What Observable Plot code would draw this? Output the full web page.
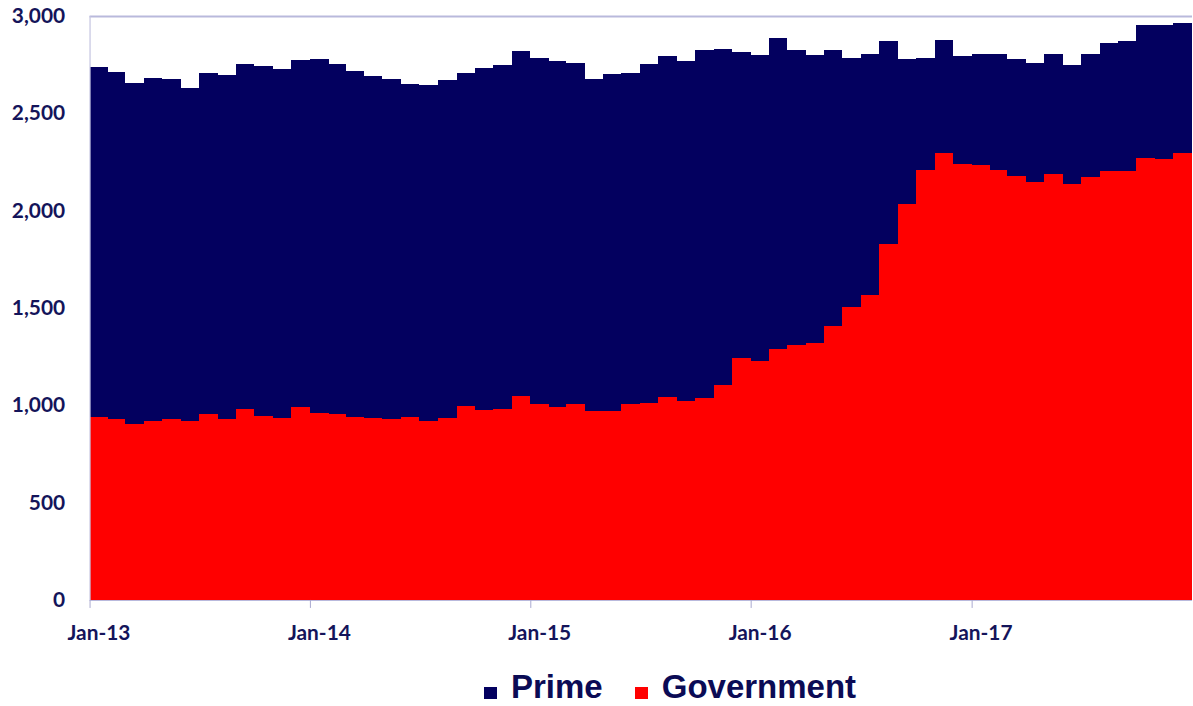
<!DOCTYPE html>
<html><head><meta charset="utf-8">
<script src="https://cdn.jsdelivr.net/npm/d3@7"></script>
<script src="https://cdn.jsdelivr.net/npm/@observablehq/plot@0.6"></script>
<style>
html,body{margin:0;background:#fff;}
body{overflow:hidden;width:1193px;height:706px;position:relative}
#chart{position:absolute;left:0;top:0}
#legend{position:absolute;left:484px;top:668px;display:flex;align-items:baseline;font:bold 33px "Liberation Sans",Arial,sans-serif;color:#0b0b55;white-space:nowrap}
.sw{display:inline-block;width:13px;height:12px;margin-right:14px;position:relative;top:1px}
</style></head><body>
<div id="chart"></div>
<div id="legend"><span class="sw" style="background:#03005f"></span><span>Prime</span><span class="sw" style="background:#ff0000;margin-left:32px"></span><span>Government</span></div>
<script>
// Monthly series, Jan-2013 .. Dec-2017
const firstMonth = [2013, 0];
const government = [942,930,905,917,930,917,956,932,981,944,935,993,
  962,956,942,937,932,942,920,935,995,978,983,1048,
  1007,992,1007,971,971,1007,1010,1041,1024,1036,1102,1245,
  1227,1290,1310,1322,1407,1506,1564,1831,2036,2211,2296,2240,
  2235,2211,2179,2148,2188,2135,2172,2204,2201,2271,2266,2298];
const prime = [1794,1782,1748,1766,1748,1712,1749,1762,1770,1799,1791,1782,
  1817,1795,1775,1755,1746,1709,1726,1736,1712,1756,1765,1772,
  1777,1778,1749,1707,1731,1700,1743,1755,1743,1790,1728,1568,
  1572,1596,1513,1477,1419,1279,1242,1038,741,571,578,554,
  569,593,598,612,616,615,632,656,670,681,686,668];
const seriesNames = ["Government", "Prime"];
const seriesColors = ["#ff0000", "#03005f"];
const tickYears = [2013, 2014, 2015, 2016, 2017];
const yTicks = [0, 500, 1000, 1500, 2000, 2500, 3000];

const start = new Date(Date.UTC(firstMonth[0], firstMonth[1], 1));
const end = d3.utcMonth.offset(start, government.length);
const rows = [];
government.forEach((v, i) => rows.push({date: d3.utcMonth.offset(start, i), series: "Government", value: v}));
prime.forEach((v, i) => rows.push({date: d3.utcMonth.offset(start, i), series: "Prime", value: v}));
const tickDates = tickYears.map(y => new Date(Date.UTC(y, 0, 1)));
const fmt = d3.format(",");

const chart = Plot.plot({
  width: 1199, height: 655,
  marginLeft: 90, marginRight: 1, marginTop: 16, marginBottom: 52,
  style: {fontFamily: "Lato, 'Open Sans', sans-serif", fontWeight: "bold", fontSize: "21px", color: "#14145a", background: "#fff", overflow: "visible"},
  x: {type: "utc", domain: [start, end]},
  y: {domain: [0, 3000]},
  color: {domain: seriesNames, range: seriesColors},
  marks: [
    Plot.rectY(rows, {x: "date", y: "value", fill: "series", interval: "month", order: seriesNames, inset: 0, shapeRendering: "crispEdges"}),
    Plot.ruleY([3000], {stroke: "#b9b9dc", strokeWidth: 2}),
    Plot.ruleY([0], {stroke: "#b9b9dc", strokeWidth: 1.2}),
    Plot.ruleX([start], {stroke: "#c4c4e0", strokeWidth: 1.2}),
    Plot.axisX({ticks: tickDates, tickFormat: () => "", tickSize: 8, stroke: "#a9a9d0", label: null}),
    Plot.axisX({ticks: tickDates, tickFormat: d => "Jan-" + String(d.getUTCFullYear()).slice(2), tickSize: 0, tickPadding: 25, dx: 9, fill: "#14145a", label: null}),
    Plot.axisY({ticks: yTicks, tickFormat: d => fmt(d), tickSize: 0, tickPadding: 25, fill: "#14145a", label: null})
  ]
});
document.getElementById("chart").appendChild(chart);
</script>
</body></html>
